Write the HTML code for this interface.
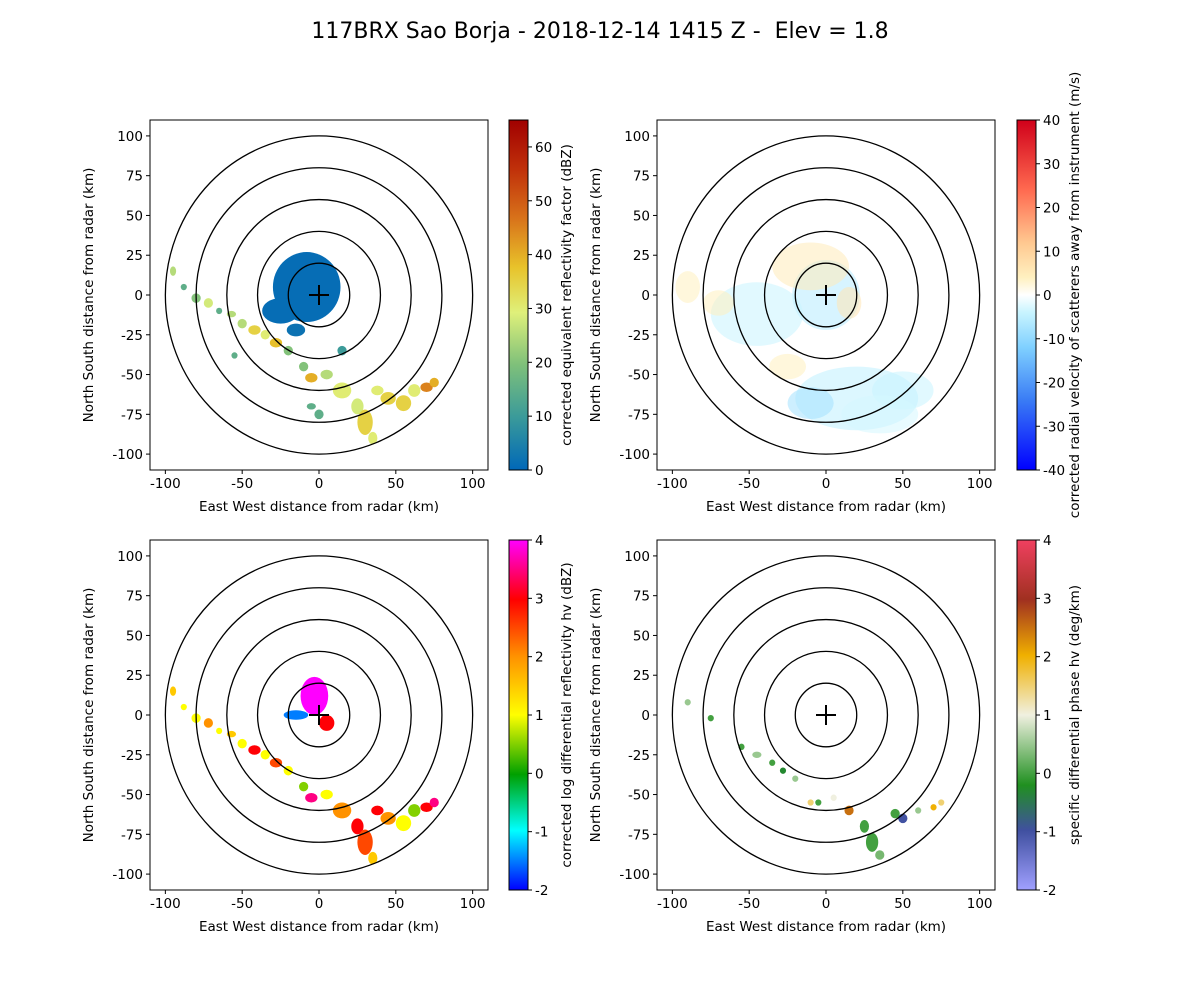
<!DOCTYPE html>
<html><head><meta charset="utf-8"><style>
body{margin:0;background:#fff;}
svg{display:block;font-family:"DejaVu Sans","Liberation Sans",sans-serif;}
</style></head><body>
<svg id="fig" width="1200" height="1000" viewBox="0 0 1200 1000">
<text x="600" y="38" font-size="22" text-anchor="middle" xml:space="preserve">117BRX Sao Borja - 2018-12-14 1415 Z -  Elev = 1.8</text>
</svg>
<script>
// ---- data: echo cells per panel (km coords, radii km, field value) ----
const p1X=[-8,-25,-15,-95,-88,-80,-72,-65,-57,-50,-42,-35,-28,-20,-55,-10,-5,5,15,25,30,35,38,45,55,62,70,75,-5,0,15];
const p1Y=[5,-10,-22,15,5,-2,-5,-10,-12,-18,-22,-25,-30,-35,-38,-45,-52,-50,-60,-70,-80,-90,-60,-65,-68,-60,-58,-55,-70,-75,-35];
const p1RX=[22,12,6,2,2,3,3,2,3,3,4,3,4,3,2,3,4,4,6,4,5,3,4,5,5,4,4,3,3,3,3];
const p1RY=[22,8,4,3,2,3,3,2,2,3,3,3,3,3,2,3,3,3,5,5,8,4,3,4,5,4,3,3,2,3,3];
const p1V=[1,1,2,25,15,20,28,15,25,25,35,30,38,20,15,20,40,25,30,28,35,30,30,35,35,30,45,40,15,15,10];

const p2X=[0,-10,15,-45,20,-10,50,-90,-70,35,-25];
const p2Y=[0,18,-5,-12,-65,-68,-60,5,-5,-75,-45];
const p2RX=[22,25,8,30,40,15,20,8,10,25,12];
const p2RY=[22,15,10,20,20,10,12,10,8,12,8];
const p2V=[-6,5,6,-4,-5,-8,-4,4,4,-3,4];

const p3X=[-3,-15,5,-95,-88,-80,-72,-65,-57,-50,-42,-35,-28,-20,-10,-5,5,15,25,30,35,38,45,55,62,70,75];
const p3Y=[12,0,-5,15,5,-2,-5,-10,-12,-18,-22,-25,-30,-35,-45,-52,-50,-60,-70,-80,-90,-60,-65,-68,-60,-58,-55];
const p3RX=[9,8,5,2,2,3,3,2,3,3,4,3,4,3,3,4,4,6,4,5,3,4,5,5,4,4,3];
const p3RY=[12,3,5,3,2,3,3,2,2,3,3,3,3,3,3,3,3,5,5,8,4,3,4,5,4,3,3];
const p3V=[4,-1.5,3,1.5,1,1,2,1,1.5,1,3,1,2.5,1,0.5,3.5,1,2,3,2.5,1.5,3,2,1,0.5,3,3.5];

const p4X=[-90,-75,-55,-45,-35,-28,-20,-10,-5,5,15,25,30,35,45,50,60,70,75];
const p4Y=[8,-2,-20,-25,-30,-35,-40,-55,-55,-52,-60,-70,-80,-88,-62,-65,-60,-58,-55];
const p4RX=[2,2,2,3,2,2,2,2,2,2,3,3,4,3,3,3,2,2,2];
const p4RY=[2,2,2,2,2,2,2,2,2,2,3,4,6,3,3,3,2,2,2];
const p4V=[0.5,0,0,0.5,0,-0.3,0.5,1.5,0,1,2.5,0,0,0.3,0,-1,0.5,2,1.5];

const circleRadii=[20,40,60,80,100];
const xTicks=[-100,-50,0,50,100];
const yTicks=[-100,-75,-50,-25,0,25,50,75,100];

const cmaps={
 ref:{min:0,max:65,ticks:[0,10,20,30,40,50,60],stops:[[0,'#0068b8'],[0.15,'#3a9a9a'],[0.3,'#7ec07a'],[0.45,'#dff07a'],[0.58,'#e8c22a'],[0.72,'#d8721a'],[0.86,'#c0300a'],[1,'#a00000']],
  label:'corrected equivalent reflectivity factor (dBZ)'},
 vel:{min:-40,max:40,ticks:[-40,-30,-20,-10,0,10,20,30,40],stops:[[0,'#0000ff'],[0.2,'#3a7cf5'],[0.35,'#7fd0ff'],[0.45,'#c8f4ff'],[0.5,'#ffffff'],[0.55,'#fff0c0'],[0.65,'#ffc890'],[0.8,'#ff6a50'],[1,'#d0001a']],
  label:'corrected radial velocity of scatterers away from instrument (m/s)'},
 zdr:{min:-2,max:4,ticks:[-2,-1,0,1,2,3,4],stops:[[0,'#0000ff'],[0.17,'#00ffff'],[0.33,'#00a000'],[0.5,'#ffff00'],[0.67,'#ff9000'],[0.83,'#ff0000'],[1,'#ff00ff']],
  label:'corrected log differential reflectivity hv (dBZ)'},
 kdp:{min:-2,max:4,ticks:[-2,-1,0,1,2,3,4],stops:[[0,'#a0a0ff'],[0.17,'#4050a0'],[0.3,'#209020'],[0.5,'#f0f0e0'],[0.67,'#f0b000'],[0.83,'#a03020'],[1,'#f04060']],
  label:'specific differential phase hv (deg/km)'}
};

const NS='http://www.w3.org/2000/svg';
const svg=document.getElementById('fig');
function mk(tag,attrs,parent){const e=document.createElementNS(NS,tag);for(const k in attrs)e.setAttribute(k,attrs[k]);(parent||svg).appendChild(e);return e;}
function hex(h){return [parseInt(h.substr(1,2),16),parseInt(h.substr(3,2),16),parseInt(h.substr(5,2),16)];}
function colorOf(cm,v){let t=(v-cm.min)/(cm.max-cm.min);t=Math.max(0,Math.min(1,t));const s=cm.stops;for(let i=1;i<s.length;i++){if(t<=s[i][0]){const a=hex(s[i-1][1]),b=hex(s[i][1]);const f=(t-s[i-1][0])/(s[i][0]-s[i-1][0]);return 'rgb('+a.map((x,j)=>Math.round(x+(b[j]-x)*f)).join(',')+')';}}return s[s.length-1][1];}

const panels=[
 {L:150,T:120,cb:509,cm:'ref',X:p1X,Y:p1Y,RX:p1RX,RY:p1RY,V:p1V,op:1,name:'reflectivity'},
 {L:657,T:120,cb:1017,cm:'vel',X:p2X,Y:p2Y,RX:p2RX,RY:p2RY,V:p2V,op:0.55,name:'velocity'},
 {L:150,T:540,cb:509,cm:'zdr',X:p3X,Y:p3Y,RX:p3RX,RY:p3RY,V:p3V,op:1,name:'zdr'},
 {L:657,T:540,cb:1017,cm:'kdp',X:p4X,Y:p4Y,RX:p4RX,RY:p4RY,V:p4V,op:1,name:'kdp'}];
const W=338,H=350,FS=13.5;

panels.forEach((p,pi)=>{
 const sx=k=>p.L+(k+110)/220*W, sy=k=>p.T+(110-k)/220*H;
 const g=mk('g',{});
 
 
 const cid='clip'+pi;
 const cp=mk('clipPath',{id:cid},g);mk('rect',{x:p.L,y:p.T,width:W,height:H},cp);
 const cells=mk('g',{'clip-path':'url(#'+cid+')'},g);
 
 
 const cm=cmaps[p.cm];
 for(let i=0;i<p.X.length;i++){
  const e=mk('ellipse',{cx:sx(p.X[i]),cy:sy(p.Y[i]),rx:p.RX[i]*W/220,ry:p.RY[i]*H/220,fill:colorOf(cm,p.V[i]),'fill-opacity':p.op},cells);
  
  
 }
 circleRadii.forEach(r=>{
  const c=mk('ellipse',{cx:sx(0),cy:sy(0),rx:r*W/220,ry:r*H/220,fill:'none',stroke:'#000','stroke-width':1.3},g);
  
  
 });
 const cr=mk('path',{d:`M${sx(0)-10},${sy(0)}h20M${sx(0)},${sy(0)-10}v20`,stroke:'#000','stroke-width':2},g);
 
 
 const fr=mk('rect',{x:p.L,y:p.T,width:W,height:H,fill:'none',stroke:'#000','stroke-width':1},g);
 
 
 xTicks.forEach(t=>{mk('line',{x1:sx(t),x2:sx(t),y1:p.T+H,y2:p.T+H+4,stroke:'#000'},g);
  const tx=mk('text',{x:sx(t),y:p.T+H+18,'font-size':FS,'text-anchor':'middle'},g);tx.textContent=t;
  });
 yTicks.forEach(t=>{mk('line',{x1:p.L-4,x2:p.L,y1:sy(t),y2:sy(t),stroke:'#000'},g);
  const tx=mk('text',{x:p.L-7,y:sy(t)+5,'font-size':FS,'text-anchor':'end'},g);tx.textContent=t;
  });
 const xl=mk('text',{x:p.L+W/2,y:p.T+H+41,'font-size':FS,'text-anchor':'middle'},g);xl.textContent='East West distance from radar (km)';
 
 const yl=mk('text',{x:0,y:0,'font-size':FS,'text-anchor':'middle',transform:`translate(${p.L-57},${p.T+H/2}) rotate(-90)`},g);yl.textContent='North South distance from radar (km)';
 
 const gid='grad'+pi;
 const lg=mk('linearGradient',{id:gid,x1:0,y1:1,x2:0,y2:0},g);
 cm.stops.forEach(s=>mk('stop',{offset:s[0],'stop-color':s[1]},lg));
 const cbW=19;
 const cb=mk('rect',{x:p.cb,y:p.T,width:cbW,height:H,fill:'url(#'+gid+')',stroke:'#000','stroke-width':1},g);
 
 const cy=v=>p.T+H-(v-cm.min)/(cm.max-cm.min)*H;
 cm.ticks.forEach(t=>{mk('line',{x1:p.cb+cbW,x2:p.cb+cbW+4,y1:cy(t),y2:cy(t),stroke:'#000'},g);
  const tx=mk('text',{x:p.cb+cbW+7,y:cy(t)+5,'font-size':FS},g);tx.textContent=t;
  });
 const cl=mk('text',{x:0,y:0,'font-size':FS,'text-anchor':'middle',transform:`translate(${p.cb+cbW+43},${p.T+H/2}) rotate(-90)`},g);cl.textContent=cm.label;
 
});
</script>
</body></html>
